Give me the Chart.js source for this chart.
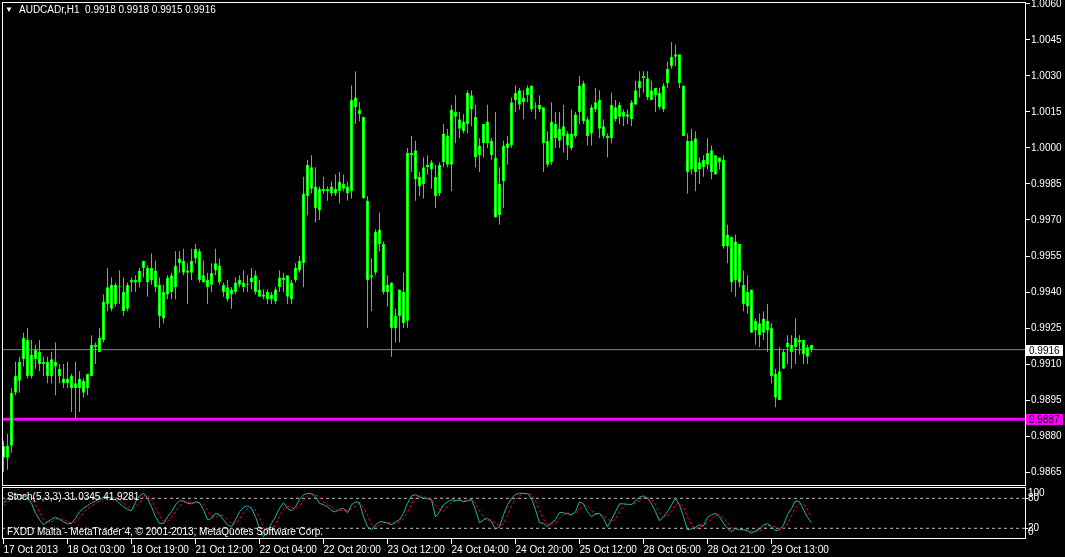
<!DOCTYPE html>
<html>
<head>
<meta charset="utf-8">
<script src="https://cdn.jsdelivr.net/npm/chart.js@4.4.0/dist/chart.umd.min.js"></script>
<style>
  body { margin: 0; background: #000; }
  #wrap { position: relative; width: 1065px; height: 557px; overflow: hidden; background: #000;
          font-family: 'Liberation Sans', Arial, sans-serif; font-size: 10px; color: #fff; }
  #wrap canvas { position: absolute; left: 0; }
  .txt { position: absolute; white-space: pre; line-height: 12px; }
  .tag { position: absolute; left: 1026px; width: 37px; height: 11px; line-height: 11px;
         color: #000; padding-left: 3px; box-sizing: border-box; }
</style>
</head>
<body>
<div id="wrap">
  <canvas id="priceChart" width="1065" height="487" style="top:0"></canvas>
  <canvas id="stochChart" width="1065" height="71" style="top:486px"></canvas>
  <div class="txt" style="left:5px;top:4px;font-size:8px">&#9660;</div>
  <div class="txt" id="quoteHeader" style="left:19px;top:4px"></div>
  <div class="txt" id="stochHeader" style="left:7px;top:491px"></div>
  <div class="txt" style="left:7px;top:526px">FXDD Malta - MetaTrader 4, © 2001-2013, MetaQuotes Software Corp.</div>
  <div class="txt" style="left:1028px;top:487px">100</div>
  <div class="txt" style="left:1028px;top:526px">0</div>
  <div class="tag" id="lastTag" style="background:#fff"></div>
  <div class="tag" id="alertTag" style="background:#ff00ff"></div>
</div>
<script>
// AUDCADr H1, 17 Oct 2013 11:00 .. 29 Oct 2013 23:00
const open = [
  0.9871,0.9876,0.9876,0.9898,0.9903,0.9912,0.9920,0.9905,0.9912,0.9915,
  0.9910,0.9911,0.9905,0.9911,0.9908,0.9904,0.9902,0.9905,0.9900,0.9900,
  0.9903,0.9900,0.9905,0.9918,0.9915,0.9920,0.9935,0.9943,0.9935,0.9942,
  0.9940,0.9933,0.9944,0.9945,0.9944,0.9950,0.9950,0.9945,0.9949,0.9943,
  0.9929,0.9939,0.9947,0.9942,0.9952,0.9953,0.9948,0.9948,0.9954,0.9957,
  0.9944,0.9945,0.9943,0.9949,0.9951,0.9943,0.9942,0.9939,0.9940,0.9943,
  0.9944,0.9943,0.9944,0.9947,0.9941,0.9938,0.9940,0.9937,0.9941,0.9942,
  0.9946,0.9947,0.9937,0.9945,0.9949,0.9952,0.9980,0.9992,0.9984,0.9974,
  0.9982,0.9983,0.9981,0.9983,0.9982,0.9985,0.9984,0.9982,1.0021,1.0016,
  1.0013,0.9978,0.9946,0.9948,0.9966,0.9960,0.9940,0.9944,0.9925,0.9930,
  0.9940,0.9928,0.9998,0.9999,0.9988,0.9985,0.9992,0.9994,0.9988,0.9981,
  0.9994,1.0005,0.9993,1.0015,1.0012,1.0007,1.0010,1.0022,1.0013,0.9997,
  1.0002,1.0011,1.0003,0.9996,0.9972,0.9986,1.0000,1.0001,1.0020,1.0024,
  1.0019,1.0022,1.0026,1.0017,1.0016,1.0017,1.0003,0.9994,1.0010,1.0003,
  1.0005,1.0006,1.0000,1.0005,1.0015,1.0027,1.0012,1.0006,1.0016,1.0020,
  1.0009,1.0005,1.0004,1.0017,1.0013,1.0015,1.0013,1.0012,1.0018,1.0025,
  1.0029,1.0029,1.0020,1.0025,1.0023,1.0016,1.0027,1.0034,1.0038,1.0039,
  1.0026,1.0003,0.9991,1.0004,0.9991,0.9992,0.9993,0.9999,0.9989,0.9996,
  0.9995,0.9959,0.9963,0.9945,0.9960,0.9943,0.9934,0.9941,0.9924,0.9927,
  0.9923,0.9928,0.9925,0.9906,0.9895,0.9908,0.9917,0.9918,0.9917,0.9920,
  0.9920,0.9913,0.9918
];
const high = [
  0.9878,0.9881,0.9900,0.9911,0.9913,0.9923,0.9925,0.9920,0.9918,0.9920,
  0.9913,0.9913,0.9915,0.9919,0.9910,0.9910,0.9911,0.9906,0.9911,0.9907,
  0.9904,0.9906,0.9922,0.9919,0.9925,0.9939,0.9950,0.9946,0.9944,0.9949,
  0.9946,0.9944,0.9946,0.9947,0.9950,0.9953,0.9951,0.9956,0.9953,0.9946,
  0.9943,0.9947,0.9948,0.9957,0.9957,0.9958,0.9952,0.9958,0.9960,0.9958,
  0.9953,0.9948,0.9952,0.9958,0.9954,0.9944,0.9945,0.9942,0.9946,0.9947,
  0.9949,0.9947,0.9950,0.9949,0.9945,0.9941,0.9941,0.9940,0.9942,0.9949,
  0.9948,0.9947,0.9945,0.9952,0.9955,0.9988,0.9995,0.9997,0.9992,0.9984,
  0.9988,0.9984,0.9986,0.9989,0.9990,0.9989,0.9986,1.0026,1.0032,1.0019,
  1.0013,0.9980,0.9954,0.9966,0.9973,0.9961,0.9947,0.9944,0.9933,0.9941,
  0.9948,1.0000,1.0005,1.0003,0.9990,0.9996,0.9997,0.9995,0.9993,0.9994,
  1.0010,1.0008,1.0018,1.0022,1.0015,1.0014,1.0024,1.0024,1.0018,1.0004,
  1.0010,1.0018,1.0004,1.0015,0.9992,1.0003,1.0005,1.0021,1.0026,1.0025,
  1.0024,1.0026,1.0026,1.0019,1.0022,1.0017,1.0007,1.0019,1.0015,1.0015,
  1.0018,1.0007,1.0016,1.0015,1.0030,1.0028,1.0013,1.0018,1.0025,1.0024,
  1.0012,1.0006,1.0023,1.0020,1.0019,1.0016,1.0016,1.0020,1.0028,1.0032,
  1.0032,1.0032,1.0028,1.0025,1.0025,1.0027,1.0036,1.0044,1.0043,1.0039,
  1.0026,1.0006,1.0008,1.0007,0.9996,0.9997,1.0004,1.0001,0.9997,0.9996,
  0.9997,0.9968,0.9963,0.9964,0.9960,0.9949,0.9947,0.9941,0.9929,0.9931,
  0.9932,0.9935,0.9927,0.9908,0.9917,0.9916,0.9922,0.9922,0.9929,0.9922,
  0.9920,0.9918,0.9918
];
const low = [
  0.9865,0.9866,0.9873,0.9897,0.9898,0.9909,0.9904,0.9904,0.9908,0.9907,
  0.9905,0.9902,0.9902,0.9897,0.9902,0.9900,0.9900,0.9890,0.9887,0.9890,
  0.9896,0.9897,0.9905,0.9910,0.9915,0.9919,0.9932,0.9932,0.9934,0.9935,
  0.9930,0.9932,0.9940,0.9940,0.9942,0.9946,0.9938,0.9943,0.9940,0.9925,
  0.9927,0.9937,0.9937,0.9937,0.9948,0.9947,0.9935,0.9945,0.9952,0.9944,
  0.9944,0.9935,0.9940,0.9947,0.9943,0.9938,0.9936,0.9933,0.9939,0.9942,
  0.9940,0.9940,0.9941,0.9939,0.9938,0.9937,0.9935,0.9935,0.9935,0.9940,
  0.9940,0.9935,0.9935,0.9944,0.9948,0.9942,0.9972,0.9981,0.9969,0.9970,
  0.9981,0.9978,0.9980,0.9980,0.9977,0.9982,0.9978,0.9979,1.0010,1.0011,
  0.9979,0.9925,0.9932,0.9947,0.9957,0.9939,0.9934,0.9913,0.9919,0.9919,
  0.9925,0.9925,0.9990,0.9978,0.9980,0.9979,0.9989,0.9983,0.9975,0.9980,
  0.9992,0.9992,0.9982,1.0002,1.0004,1.0006,1.0006,1.0009,0.9992,0.9990,
  0.9996,1.0000,0.9995,0.9971,0.9968,0.9975,0.9993,1.0000,1.0015,1.0016,
  1.0012,1.0019,1.0015,1.0012,1.0015,0.9990,0.9992,0.9993,1.0000,1.0000,
  0.9998,0.9995,0.9999,1.0004,1.0010,1.0010,1.0001,1.0001,1.0015,1.0004,
  1.0004,0.9996,1.0002,1.0011,1.0010,1.0009,1.0010,1.0009,1.0018,1.0021,
  1.0023,1.0020,1.0020,1.0015,1.0016,1.0015,1.0025,1.0033,1.0034,1.0025,
  1.0005,0.9981,0.9989,0.9982,0.9985,0.9988,0.9991,0.9987,0.9989,0.9991,
  0.9958,0.9952,0.9940,0.9938,0.9942,0.9932,0.9931,0.9923,0.9918,0.9917,
  0.9920,0.9915,0.9902,0.9892,0.9895,0.9908,0.9910,0.9908,0.9910,0.9914,
  0.9910,0.9910,0.9915
];
const close = [
  0.9876,0.9871,0.9898,0.9905,0.9911,0.9921,0.9905,0.9914,0.9916,0.9910,
  0.9911,0.9905,0.9912,0.9909,0.9905,0.9902,0.9904,0.9900,0.9902,0.9904,
  0.9898,0.9906,0.9918,0.9917,0.9921,0.9936,0.9942,0.9933,0.9943,0.9942,
  0.9932,0.9943,0.9945,0.9944,0.9949,0.9953,0.9944,0.9950,0.9942,0.9930,
  0.9940,0.9946,0.9940,0.9951,0.9954,0.9948,0.9949,0.9953,0.9958,0.9945,
  0.9947,0.9942,0.9948,0.9952,0.9944,0.9940,0.9937,0.9941,0.9944,0.9945,
  0.9942,0.9943,0.9946,0.9940,0.9938,0.9939,0.9937,0.9939,0.9936,0.9946,
  0.9945,0.9938,0.9944,0.9950,0.9953,0.9981,0.9993,0.9983,0.9975,0.9983,
  0.9983,0.9982,0.9984,0.9981,0.9986,0.9983,0.9981,1.0020,1.0017,1.0014,
  0.9979,0.9945,0.9947,0.9965,0.9960,0.9940,0.9943,0.9925,0.9930,0.9941,
  0.9927,0.9998,0.9997,0.9987,0.9984,0.9992,0.9993,0.9991,0.9980,0.9993,
  1.0006,0.9993,1.0016,1.0013,1.0008,1.0011,1.0023,1.0016,0.9996,1.0001,
  1.0010,1.0002,0.9997,0.9971,0.9985,1.0001,1.0002,1.0019,1.0023,1.0018,
  1.0021,1.0025,1.0016,1.0017,1.0018,1.0002,0.9993,1.0011,1.0004,1.0008,
  1.0009,1.0001,1.0006,1.0014,1.0026,1.0011,1.0005,1.0017,1.0019,1.0008,
  1.0005,1.0004,1.0018,1.0012,1.0018,1.0013,1.0014,1.0019,1.0024,1.0028,
  1.0030,1.0021,1.0024,1.0022,1.0017,1.0026,1.0033,1.0038,1.0039,1.0027,
  1.0005,0.9990,1.0003,0.9990,0.9994,0.9995,0.9998,0.9990,0.9997,0.9994,
  0.9959,0.9964,0.9944,0.9961,0.9944,0.9935,0.9940,0.9923,0.9928,0.9922,
  0.9929,0.9924,0.9905,0.9896,0.9907,0.9915,0.9919,0.9915,0.9921,0.9919,
  0.9914,0.9917,0.9916
];

// Stochastic(5,3,3): main line and signal line
const stochMain = [
  70,80,87,89,87,85,82,70,50,37, 27,33,38,42,38,33,29,30,40,53,
  60,65,71,75,78,82,83,80,77,70, 63,58,55,73,85,90,80,63,43,30,
  30,43,53,67,75,75,70,69,73,71, 57,37,40,50,47,37,27,23,37,53,
  62,65,60,43,20,3,13,30,43,60, 71,60,55,63,78,87,90,89,83,70,
  67,63,55,53,58,60,51,67,73,71, 43,23,17,27,33,33,30,27,33,37,
  50,70,85,87,83,80,79,77,43,53, 67,73,77,75,77,73,75,78,57,31,
  37,40,33,18,23,47,67,80,88,90, 90,89,80,57,31,30,23,31,37,52,
  51,49,47,53,73,69,53,43,49,50, 40,23,38,53,69,69,68,67,75,82,
  85,80,69,53,35,43,53,67,80,67, 43,17,19,22,27,25,42,47,50,43,
  30,20,13,20,17,17,15,10,15,18, 27,29,23,15,17,27,47,60,75,73,
  57,42,31.0345
];
const stochSignal = [
  65,72,79,85,88,87,85,79,67,52, 38,32,33,38,39,38,33,31,33,41,
  51,59,65,70,75,78,81,82,80,76, 70,64,59,62,71,83,85,78,62,45,
  34,34,42,54,65,72,73,71,71,71, 67,55,45,42,46,45,37,29,29,38,
  51,60,62,56,41,22,12,15,29,44, 58,64,62,59,65,76,85,89,87,81,
  73,67,62,57,55,57,56,59,64,70, 62,46,28,22,26,31,32,30,30,32,
  40,52,68,81,85,83,81,79,66,58, 54,64,72,75,76,75,75,75,70,55,
  42,36,37,30,25,29,46,65,78,86, 89,90,86,75,56,39,28,28,30,40,
  47,51,49,50,58,65,65,55,48,47, 46,38,34,38,53,64,69,68,70,75,
  81,82,78,67,52,44,44,54,67,71, 63,42,26,19,23,25,31,38,46,47,
  41,31,21,18,17,18,16,14,13,14, 20,25,26,22,18,20,30,45,61,69,
  68,57,41.9281
];
const stochLevels = [80, 20];

const timeLabels = ['17 Oct 2013', '18 Oct 03:00', '18 Oct 19:00', '21 Oct 12:00', '22 Oct 04:00',
  '22 Oct 20:00', '23 Oct 12:00', '24 Oct 04:00', '24 Oct 20:00', '25 Oct 12:00',
  '28 Oct 05:00', '28 Oct 21:00', '29 Oct 13:00'];
const timeLabelBars = [0, 16, 32, 48, 64, 80, 96, 112, 128, 144, 160, 176, 192];

const priceTicks = [1.0060, 1.0045, 1.0030, 1.0015, 1.0000, 0.9985, 0.9970, 0.9955,
  0.9940, 0.9925, 0.9910, 0.9895, 0.9880, 0.9865];
const alertPrice = 0.9887;

// visible window: 256 bar slots, price range of the main pane
const xMin = -0.375, xMax = 255.625;
const priceMin = 0.98592, priceMax = 1.00608;

Chart.defaults.font.family = "'Liberation Sans', Arial, sans-serif";
Chart.defaults.font.size = 10;
Chart.defaults.color = '#ffffff';

const lastIdx = close.length - 1;
const lastPrice = close[lastIdx];
const f4 = v => v.toFixed(4);

document.getElementById('quoteHeader').textContent =
  'AUDCADr,H1  ' + [open[lastIdx], high[lastIdx], low[lastIdx], close[lastIdx]].map(f4).join(' ');
document.getElementById('stochHeader').textContent =
  'Stoch(5,3,3) ' + stochMain[lastIdx].toFixed(4) + ' ' + stochSignal[lastIdx].toFixed(4);

const framePlugin = {
  id: 'frame',
  afterDraw(chart) {
    const a = chart.chartArea;
    const ctx = chart.ctx;
    ctx.save();
    ctx.strokeStyle = '#ffffff';
    ctx.lineWidth = 1;
    ctx.strokeRect(a.left + 0.5, a.top + 0.5, a.right - a.left - 1, a.bottom - a.top - 1);
    ctx.restore();
  }
};

// axis sizes are fixed so both panes share the same plot area
function fixSide(scale) {
  scale.width = 39;
  scale.paddingTop = 0;
  scale.paddingBottom = 0;
}
function fixBottom(scale) {
  scale.height = 18;
  scale.paddingLeft = 0;
  scale.paddingRight = 0;
}

function hLine(value, color, width, dash) {
  return {
    type: 'line',
    data: [{ x: xMin, y: value }, { x: xMax, y: value }],
    borderColor: color,
    borderWidth: width,
    borderDash: dash || [],
    pointRadius: 0,
    order: 5
  };
}

const wickData = high.map((h, i) => ({ x: i, y: [low[i], h] }));
const bodyData = open.map((o, i) => ({ x: i, y: [Math.min(o, close[i]), Math.max(o, close[i])] }));

const priceChart = new Chart(document.getElementById('priceChart').getContext('2d'), {
  type: 'bar',
  data: {
    datasets: [
      hLine(lastPrice, '#778899', 1),
      hLine(alertPrice, '#ff00ff', 3),
      {
        data: wickData,
        backgroundColor: '#00ff00',
        borderWidth: 0,
        barThickness: 1,
        inflateAmount: 0,
        grouped: false,
        order: 2
      },
      {
        data: bodyData,
        backgroundColor: '#ffffff',
        borderColor: '#00ff00',
        borderWidth: 1,
        borderSkipped: false,
        barThickness: 3,
        inflateAmount: 0,
        minBarLength: 1,
        grouped: false,
        order: 1
      }
    ]
  },
  options: {
    responsive: false,
    animation: false,
    events: [],
    layout: { padding: { left: 2, top: 2, right: 0, bottom: 1 } },
    plugins: { legend: { display: false }, tooltip: { enabled: false } },
    scales: {
      x: { type: 'linear', min: xMin, max: xMax, offset: false, display: false },
      y: {
        type: 'linear',
        position: 'right',
        min: priceMin,
        max: priceMax,
        bounds: 'data',
        afterBuildTicks: scale => { scale.ticks = priceTicks.map(v => ({ value: v })); },
        afterFit: fixSide,
        border: { display: false },
        grid: { drawOnChartArea: false, drawTicks: true, tickLength: 4, color: '#ffffff' },
        ticks: { padding: 1, autoSkip: false, color: '#ffffff', callback: v => f4(v) }
      }
    }
  },
  plugins: [framePlugin]
});

const stochChart = new Chart(document.getElementById('stochChart').getContext('2d'), {
  type: 'line',
  data: {
    datasets: [
      hLine(stochLevels[0], '#c0c0c0', 1, [3, 3]),
      hLine(stochLevels[1], '#c0c0c0', 1, [3, 3]),
      {
        data: stochSignal.map((v, i) => ({ x: i, y: v })),
        borderColor: '#ff0000',
        borderWidth: 1,
        borderDash: [3, 2],
        pointRadius: 0,
        order: 2
      },
      {
        data: stochMain.map((v, i) => ({ x: i, y: v })),
        borderColor: '#20b2aa',
        borderWidth: 1,
        pointRadius: 0,
        order: 1
      }
    ]
  },
  options: {
    responsive: false,
    animation: false,
    events: [],
    layout: { padding: { left: 2, top: 1, right: 0, bottom: 0 } },
    plugins: { legend: { display: false }, tooltip: { enabled: false } },
    scales: {
      x: {
        type: 'linear',
        min: xMin,
        max: xMax,
        offset: false,
        afterBuildTicks: scale => { scale.ticks = timeLabelBars.map(v => ({ value: v })); },
        afterFit: fixBottom,
        border: { display: false },
        grid: { drawOnChartArea: false, drawTicks: true, tickLength: 5, color: '#ffffff' },
        ticks: {
          align: 'start',
          padding: 0,
          autoSkip: false,
          maxRotation: 0,
          color: '#ffffff',
          callback: (v, i) => timeLabels[i]
        }
      },
      y: {
        type: 'linear',
        position: 'right',
        min: -1.4,
        max: 102.6,
        bounds: 'data',
        afterBuildTicks: scale => { scale.ticks = stochLevels.map(v => ({ value: v })); },
        afterFit: fixSide,
        border: { display: false },
        grid: { drawOnChartArea: false, drawTicks: true, tickLength: 2, color: '#ffffff' },
        ticks: { padding: 0, autoSkip: false, color: '#ffffff' }
      }
    }
  },
  plugins: [framePlugin]
});

function placeTag(id, value) {
  const el = document.getElementById(id);
  el.textContent = f4(value);
  el.style.top = Math.round(priceChart.scales.y.getPixelForValue(value) - 5) + 'px';
}
placeTag('lastTag', lastPrice);
placeTag('alertTag', alertPrice);
</script>
</body>
</html>
